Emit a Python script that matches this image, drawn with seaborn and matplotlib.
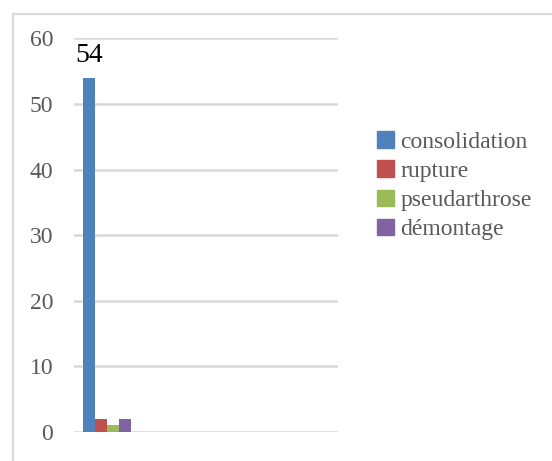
import numpy as np
import pandas as pd
import matplotlib
matplotlib.use('Agg')
import matplotlib.pyplot as plt
from matplotlib.lines import Line2D
import seaborn as sns

# data (only the first category group holds values)
categories = ['g1', 'g2', 'g3', 'g4']
series = ['consolidation', 'rupture', 'pseudarthrose', 'démontage']
values = [54, 2, 1, 2]
colors = ['#4F81BD', '#C0504D', '#9BBB59', '#8064A2']

df = pd.DataFrame({'cat': [categories[0]] * len(series), 'serie': series, 'val': values})

sns.set_theme(style='white')
plt.rcParams['font.family'] = ['Liberation Serif', 'DejaVu Serif']

fig = plt.figure(figsize=(5.52, 4.61), dpi=100)
ax = fig.add_axes([74 / 552, 1 - 432 / 461, 264 / 552, (432 - 38.3) / 461])

sns.barplot(data=df, x='cat', y='val', hue='serie', order=categories, hue_order=series,
            palette=colors, saturation=1, width=0.73, linewidth=0, ax=ax, legend=False)

ax.set_xlim(-0.5, len(categories) - 0.5)
ax.set_ylim(0, 60)
ax.set_yticks(np.arange(0, 61, 10))
ax.set_xticks([])
ax.set_xlabel('')
ax.set_ylabel('')
for s in ax.spines.values():
    s.set_visible(False)
ax.yaxis.grid(True, color='#D9D9D9', linewidth=1.8)
ax.set_axisbelow(True)
ax.tick_params(axis='y', length=0, pad=15, labelsize=17, labelcolor='#595959')

ax.bar_label(ax.containers[0], padding=7, fontsize=20, color='black')

handles = [plt.Rectangle((0, 0), 1, 1, color=c) for c in colors]
fig.legend(handles, series, loc='upper left', bbox_to_anchor=(377 / 552, 1 - 131 / 461),
           frameon=False, fontsize=17, labelcolor='#595959', handlelength=0.7,
           handleheight=0.7, handletextpad=0.3, labelspacing=0.33, borderpad=0, borderaxespad=0)

# outer chart frame (cropped at right and bottom)
fig.add_artist(Line2D([13 / 552, 1], [1 - 14 / 461, 1 - 14 / 461], color='#D9D9D9', lw=1.5,
                      transform=fig.transFigure))
fig.add_artist(Line2D([13 / 552, 13 / 552], [0, 1 - 14 / 461], color='#D9D9D9', lw=1.5,
                      transform=fig.transFigure))

fig.savefig('out.png', dpi=100)
